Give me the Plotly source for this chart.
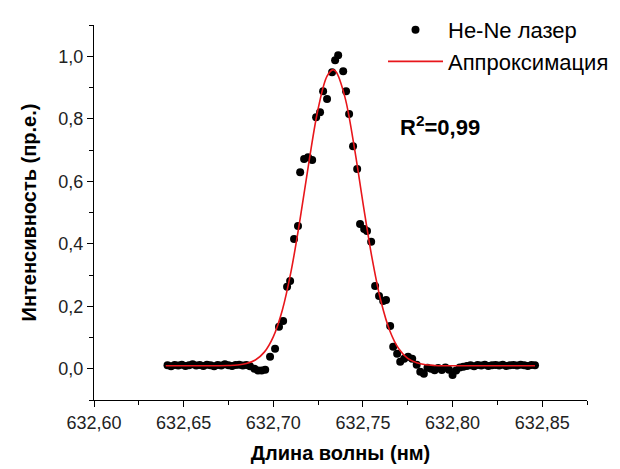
import plotly.graph_objects as go

# Measured data: He-Ne laser line (wavelength in nm, intensity in a.u.)
wavelength = [
    632.641, 632.643, 632.645, 632.647, 632.649, 632.651, 632.653, 632.655,
    632.657, 632.659, 632.661, 632.663, 632.665, 632.667, 632.669, 632.671,
    632.673, 632.675, 632.677, 632.679, 632.681, 632.683, 632.685, 632.687,
    632.6895, 632.6915, 632.6935, 632.6955, 632.6982, 632.7010, 632.7032,
    632.7055, 632.7077, 632.7094, 632.7116, 632.7138, 632.7150, 632.7172,
    632.7194, 632.7217, 632.7239, 632.7261, 632.7278, 632.7300, 632.7328,
    632.7345, 632.7362, 632.7390, 632.7406, 632.7423, 632.7445, 632.7468,
    632.7484, 632.7507, 632.7523, 632.7546, 632.7568, 632.7590, 632.7613,
    632.7629, 632.7652, 632.7669, 632.7691, 632.7708, 632.7730, 632.7752,
    632.7775,
    632.780, 632.782, 632.784, 632.786, 632.788, 632.790, 632.792, 632.794,
    632.796, 632.798, 632.800, 632.802, 632.804, 632.806, 632.808, 632.810,
    632.812, 632.814, 632.816, 632.818, 632.820, 632.822, 632.824, 632.826,
    632.828, 632.830, 632.832, 632.834, 632.836, 632.838, 632.840, 632.842,
    632.844, 632.846,
]
intensity = [
    0.011, 0.008, 0.012, 0.010, 0.013, 0.009, 0.011, 0.014, 0.010, 0.012,
    0.009, 0.013, 0.011, 0.008, 0.012, 0.010, 0.014, 0.011, 0.009, 0.012,
    0.013, 0.010, 0.012, 0.008,
    0.000, -0.006, -0.006, -0.003, 0.038, 0.064, 0.134, 0.153, 0.262, 0.281,
    0.415, 0.457, 0.629, 0.671, 0.677, 0.668, 0.805, 0.821, 0.888, 0.863,
    0.949, 0.987, 1.003, 0.952, 0.888, 0.815, 0.712, 0.639, 0.463, 0.447,
    0.441, 0.406, 0.265, 0.233, 0.217, 0.220, 0.137, 0.070, 0.048, 0.022,
    0.032, 0.038, 0.032,
    0.013, -0.010, -0.016, 0.003, 0.000, -0.005, 0.002, -0.004, 0.004,
    -0.003, -0.020, -0.006, 0.004, 0.006, 0.009, 0.011, 0.008, 0.012, 0.010,
    0.013, 0.009, 0.011, 0.012, 0.010, 0.013, 0.009, 0.011, 0.012, 0.010,
    0.013, 0.011, 0.009, 0.012, 0.011, 0.012,
]

# Gaussian approximation curve
fit_wavelength = [
    632.640, 632.645, 632.650, 632.655, 632.660, 632.665, 632.670, 632.675,
    632.680, 632.685, 632.690, 632.695, 632.700, 632.705, 632.710, 632.715,
    632.720, 632.725, 632.730, 632.7332, 632.735, 632.740, 632.745, 632.750,
    632.755, 632.760, 632.765, 632.770, 632.775, 632.780, 632.785, 632.790,
    632.795, 632.800, 632.805, 632.810, 632.815, 632.820, 632.825, 632.830,
    632.835, 632.840, 632.846,
]
fit_intensity = [
    0.0095, 0.0095, 0.0095, 0.0095, 0.0095, 0.0096, 0.0097, 0.0103,
    0.0119, 0.0166, 0.0280, 0.0532, 0.1022, 0.1866, 0.3140, 0.4805,
    0.6654, 0.8313, 0.9362, 0.9565, 0.9501, 0.8685, 0.7157, 0.5319,
    0.3572, 0.2178, 0.1218, 0.0640, 0.0333, 0.0189, 0.0128, 0.0106,
    0.0098, 0.0096, 0.0095, 0.0095, 0.0095, 0.0095, 0.0095, 0.0095,
    0.0095, 0.0095, 0.0095,
]

series_names = ["He-Ne лазер", "Аппроксимация"]
x_title = "Длина волны (нм)"
y_title = "Интенсивность (пр.е.)"
r2_text = "<b>R<sup>2</sup>=0,99</b>"

FONT = "Arial, Liberation Sans, sans-serif"

fig = go.Figure()
fig.add_trace(go.Scatter(
    x=wavelength, y=intensity, mode="markers", name=series_names[0],
    marker=dict(color="black", size=8, line=dict(width=0)),
))
fig.add_trace(go.Scatter(
    x=fit_wavelength, y=fit_intensity, mode="lines", name=series_names[1],
    line=dict(color="#e8161b", width=1.6, shape="spline"),
))

fig.add_annotation(
    x=632.7696, y=0.776, xref="x", yref="y", text=r2_text,
    showarrow=False, xanchor="left", yanchor="middle",
    font=dict(family=FONT, size=22, color="black"),
)

axis_common = dict(
    showgrid=False, zeroline=False, showline=True, linecolor="black",
    linewidth=1, ticks="outside", ticklen=6, tickwidth=1, tickcolor="black",
    tickfont=dict(family=FONT, size=18, color="#222"),
    mirror=False, automargin=False,
)

fig.update_xaxes(
    **axis_common, range=[632.60, 632.875], tick0=632.60, dtick=0.05,
    tickformat=".2f",
    minor=dict(dtick=0.025, ticks="outside", ticklen=4, tickcolor="black"),
    title=dict(text="<b>" + x_title + "</b>",
               font=dict(family=FONT, size=20, color="black"), standoff=14),
)
fig.update_yaxes(
    **axis_common, range=[-0.1, 1.1], tick0=0, dtick=0.2, tickformat=".1f",
    minor=dict(dtick=0.1, ticks="outside", ticklen=4, tickcolor="black"),
    title=dict(text="<b>" + y_title + "</b>",
               font=dict(family=FONT, size=20, color="black"), standoff=16),
)

fig.update_layout(
    width=620, height=469,
    margin=dict(l=94, r=33, t=25, b=69, autoexpand=False),
    plot_bgcolor="white", paper_bgcolor="white",
    separators=", ",
    font=dict(family=FONT, color="black"),
    showlegend=True,
    legend=dict(
        x=(383 - 94) / 493, y=(400 - 9) / 375, xanchor="left", yanchor="top",
        bgcolor="rgba(0,0,0,0)", borderwidth=0,
        font=dict(family=FONT, size=22, color="black"),
        itemwidth=55, tracegroupgap=0,
    ),
)

fig.write_html(
    "out.html",
    config={"displayModeBar": False},
    post_script="document.body.style.margin='0';document.body.style.padding='0';"
                "document.documentElement.style.overflow='hidden';",
)
